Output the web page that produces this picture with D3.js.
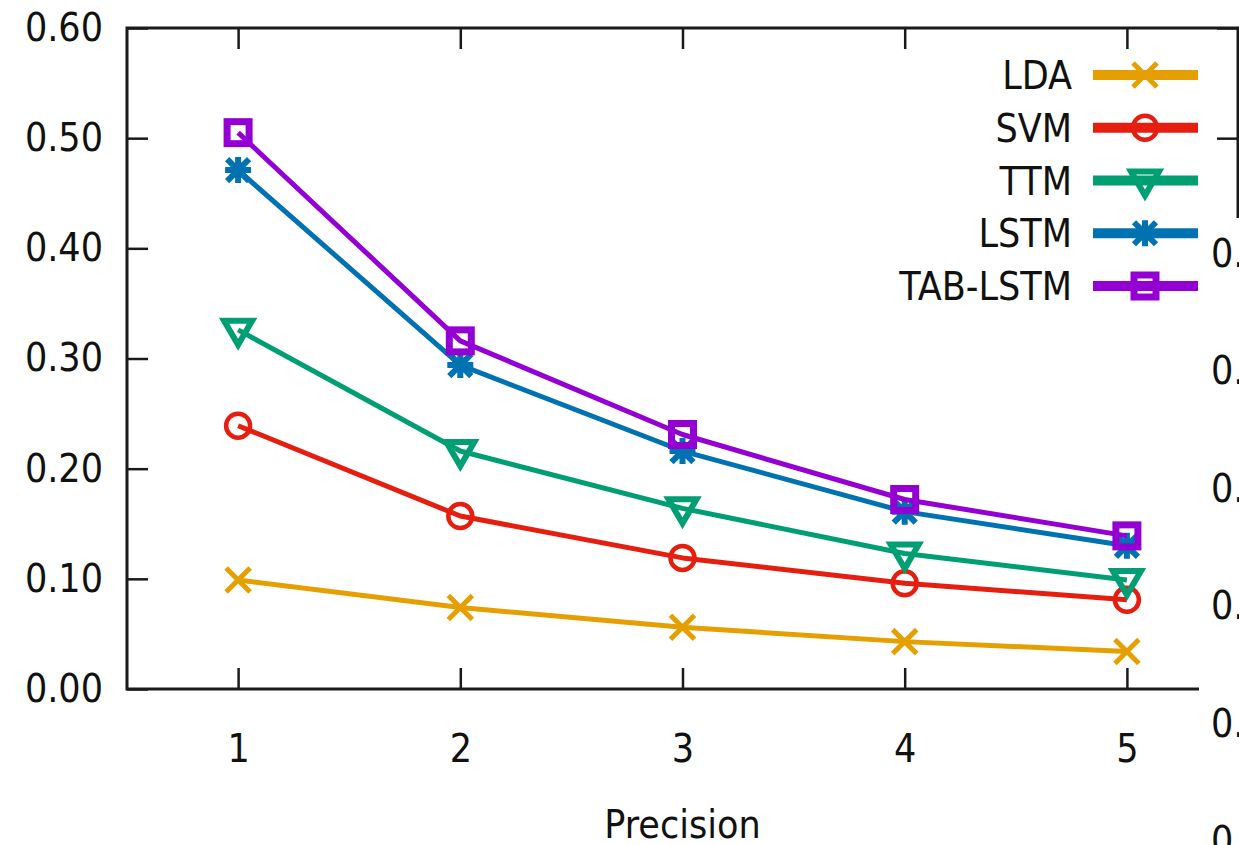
<!DOCTYPE html>
<html>
<head>
<meta charset="utf-8">
<script src="https://cdn.jsdelivr.net/npm/d3@7"></script>
<style>
  body { margin: 0; background: #fff; }
  svg { display: block; }
  text { font-family: "DejaVu Sans Condensed", "DejaVu Sans", sans-serif; fill: #111; }
</style>
</head>
<body>
<div id="chart"></div>
<script>
// data
const ranks = [1, 2, 3, 4, 5];
const seriesNames = ["LDA", "SVM", "TTM", "LSTM", "TAB-LSTM"];
const ldaValues = [0.099, 0.074, 0.056, 0.043, 0.034];
const svmValues = [0.239, 0.157, 0.119, 0.096, 0.081];
const ttmValues = [0.326, 0.216, 0.164, 0.123, 0.099];
const lstmValues = [0.471, 0.294, 0.216, 0.161, 0.130];
const tabLstmValues = [0.505, 0.316, 0.231, 0.172, 0.139];
const yTicks = [0, 0.1, 0.2, 0.3, 0.4, 0.5, 0.6];
const xLabel = "Precision";
// tick labels of the neighbouring chart, cut off at the right edge
const neighbourTicks = ["0.50", "0.40", "0.30", "0.20", "0.10", "0.00"];

const width = 1239;
const height = 845;
const plotLeft = 127, plotRight = 1238, plotTop = 28, plotBottom = 689;

const colors = ["#e69f00", "#e51e10", "#009e73", "#0072b2", "#9400d3"];
const markers = ["cross", "circle", "triDown", "star", "square"];
const allValues = [ldaValues, svmValues, ttmValues, lstmValues, tabLstmValues];

const series = seriesNames.map((name, i) => ({
    name,
    color: colors[i],
    marker: markers[i],
    points: ranks.map((r, j) => ({ x: r, y: allValues[i][j] }))
}));

const svg = d3.select("#chart")
    .append("svg")
    .attr("width", width)
    .attr("height", height);

const x = d3.scaleLinear().domain([0.5, 5.5]).range([plotLeft, plotRight]);
const y = d3.scaleLinear().domain([0, 0.6]).range([plotBottom, plotTop]);

const fs = 39;

// axes with inward ticks
const gLeft = svg.append("g").attr("transform", `translate(${plotLeft},0)`)
    .call(d3.axisLeft(y).tickValues(yTicks).tickFormat(d3.format(".2f")).tickSize(-21).tickPadding(24));
const gBottom = svg.append("g").attr("transform", `translate(0,${plotBottom})`)
    .call(d3.axisBottom(x).tickValues(ranks).tickFormat(d3.format("d")).tickSize(-21).tickPadding(45));
const gTop = svg.append("g").attr("transform", `translate(0,${plotTop})`)
    .call(d3.axisTop(x).tickValues(ranks).tickFormat("").tickSize(-21));
const gRight = svg.append("g").attr("transform", `translate(${plotRight},0)`)
    .call(d3.axisRight(y).tickValues(yTicks).tickFormat("").tickSize(-21));

[gLeft, gBottom, gTop, gRight].forEach(g => {
    g.select(".domain").remove();
    g.selectAll(".tick line").attr("stroke", "#1a1a1a").attr("stroke-width", 2.5);
    g.selectAll("text").style("font-size", fs + "px").attr("fill", "#111")
        .style("font-family", "'DejaVu Sans Condensed', 'DejaVu Sans', sans-serif");
});

svg.append("rect")
    .attr("x", plotLeft).attr("y", plotTop)
    .attr("width", plotRight - plotLeft).attr("height", plotBottom - plotTop)
    .attr("fill", "none")
    .attr("stroke", "#1a1a1a")
    .attr("stroke-width", 3);

svg.append("text")
    .attr("x", x(3))
    .attr("y", 838)
    .attr("text-anchor", "middle")
    .style("font-size", fs + "px")
    .text(xLabel);

function drawMarker(g, type, color) {
    if (type === "cross") {
        g.append("path").attr("d", "M-12,-12L12,12M-12,12L12,-12")
            .attr("stroke", color).attr("stroke-width", 5).attr("fill", "none");
    } else if (type === "circle") {
        g.append("circle").attr("r", 12)
            .attr("stroke", color).attr("stroke-width", 4.5).attr("fill", "none");
    } else if (type === "triDown") {
        g.append("path").attr("d", "M-14,-9L14,-9L0,15Z")
            .attr("stroke", color).attr("stroke-width", 6).attr("fill", "none")
            .attr("stroke-linejoin", "miter");
    } else if (type === "star") {
        g.append("path").attr("d", "M-11,-11L11,11M-11,11L11,-11M0,-13L0,13M-13,0L13,0")
            .attr("stroke", color).attr("stroke-width", 6).attr("fill", "none");
    } else if (type === "square") {
        g.append("rect").attr("x", -11).attr("y", -11).attr("width", 22).attr("height", 22)
            .attr("stroke", color).attr("stroke-width", 7).attr("fill", "none");
    }
}

const line = d3.line().x(d => x(d.x)).y(d => y(d.y));

series.forEach(s => {
    const g = svg.append("g");
    g.append("path")
        .datum(s.points)
        .attr("d", line)
        .attr("fill", "none")
        .attr("stroke", s.color)
        .attr("stroke-width", 5)
        .attr("stroke-linejoin", "round");
    s.points.forEach(p => {
        const m = g.append("g").attr("transform", `translate(${x(p.x)},${y(p.y)})`);
        drawMarker(m, s.marker, s.color);
    });
});

// legend
const legendRowY = d3.scaleLinear().domain([0, 4]).range([75, 286]);
series.forEach((s, i) => {
    const ly = legendRowY(i);
    const g = svg.append("g");
    g.append("text")
        .attr("x", 1072)
        .attr("y", ly)
        .attr("dy", "0.36em")
        .attr("text-anchor", "end")
        .style("font-size", fs + "px")
        .text(s.name);
    g.append("line")
        .attr("x1", 1093).attr("x2", 1198)
        .attr("y1", ly).attr("y2", ly)
        .attr("stroke", s.color)
        .attr("stroke-width", 10);
    const m = g.append("g").attr("transform", `translate(1145,${ly})`);
    drawMarker(m, s.marker, s.color);
});

// neighbouring chart overlapping the right edge
svg.append("rect")
    .attr("x", 1199).attr("y", 218)
    .attr("width", width - 1199).attr("height", height - 218)
    .attr("fill", "#fff");

const nY = d3.scaleLinear().domain([0, 5]).range([253, 840]);
svg.selectAll(".neighbour-tick")
    .data(neighbourTicks)
    .enter()
    .append("text")
    .attr("class", "neighbour-tick")
    .attr("x", 1211)
    .attr("y", (d, i) => nY(i))
    .attr("dy", "0.36em")
    .style("font-size", fs + "px")
    .text(d => d);
</script>
</body>
</html>
